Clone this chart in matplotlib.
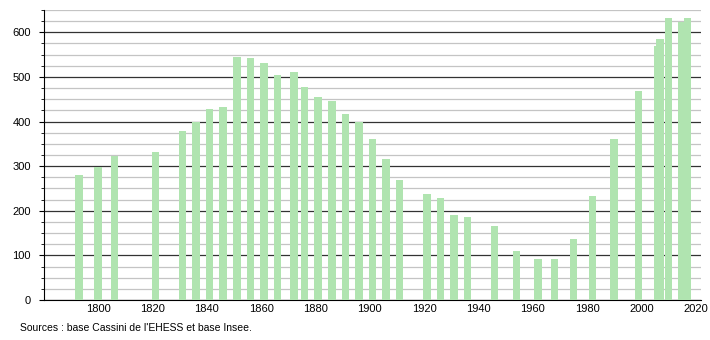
import matplotlib
matplotlib.use("Agg")
import matplotlib.pyplot as plt
from matplotlib.ticker import MultipleLocator

years = [1793, 1800, 1806, 1821, 1831, 1836, 1841, 1846, 1851, 1856, 1861, 1866,
         1872, 1876, 1881, 1886, 1891, 1896, 1901, 1906, 1911, 1921, 1926, 1931,
         1936, 1946, 1954, 1962, 1968, 1975, 1982, 1990, 1999, 2006, 2007, 2010,
         2015, 2017]
population = [281, 299, 322, 332, 378, 400, 427, 432, 544, 542, 531, 504,
              511, 478, 454, 445, 416, 400, 360, 317, 270, 238, 229, 191,
              187, 166, 110, 92, 92, 137, 232, 360, 468, 570, 585, 631,
              624, 631]
xticks = [1800, 1820, 1840, 1860, 1880, 1900, 1920, 1940, 1960, 1980, 2000, 2020]
yticks = [0, 100, 200, 300, 400, 500, 600]
source = "Sources : base Cassini de l'EHESS et base Insee."

plt.rcParams['font.family'] = ['Liberation Sans', 'DejaVu Sans']

fig = plt.figure(figsize=(7.1, 3.4), dpi=100)
ax = fig.add_axes([44/710, 40/340, (701-44)/710, (300-10)/340])

ax.bar(years, population, width=2.8, color='#b0e4b0', zorder=3)

ax.set_xlim(1780, 2022)
ax.set_ylim(0, 650)
ax.set_xticks(xticks)
ax.set_yticks(yticks)
ax.yaxis.set_minor_locator(MultipleLocator(25))
ax.grid(axis='y', which='major', color='#333333', linewidth=0.9, zorder=1)
ax.grid(axis='y', which='minor', color='#c4c4c4', linewidth=0.9, zorder=1)

for s in ['top', 'right']:
    ax.spines[s].set_visible(False)
ax.spines['left'].set_color('black')
ax.spines['bottom'].set_color('black')
ax.tick_params(axis='x', length=0, labelsize=8, pad=3)
ax.tick_params(axis='y', which='major', length=3.5, labelsize=8, pad=6)
ax.tick_params(axis='y', which='minor', length=2)

fig.text(20/710, 1 - 328/340, source, fontsize=7.5, va='center', ha='left')

fig.savefig('out.png', dpi=100)
